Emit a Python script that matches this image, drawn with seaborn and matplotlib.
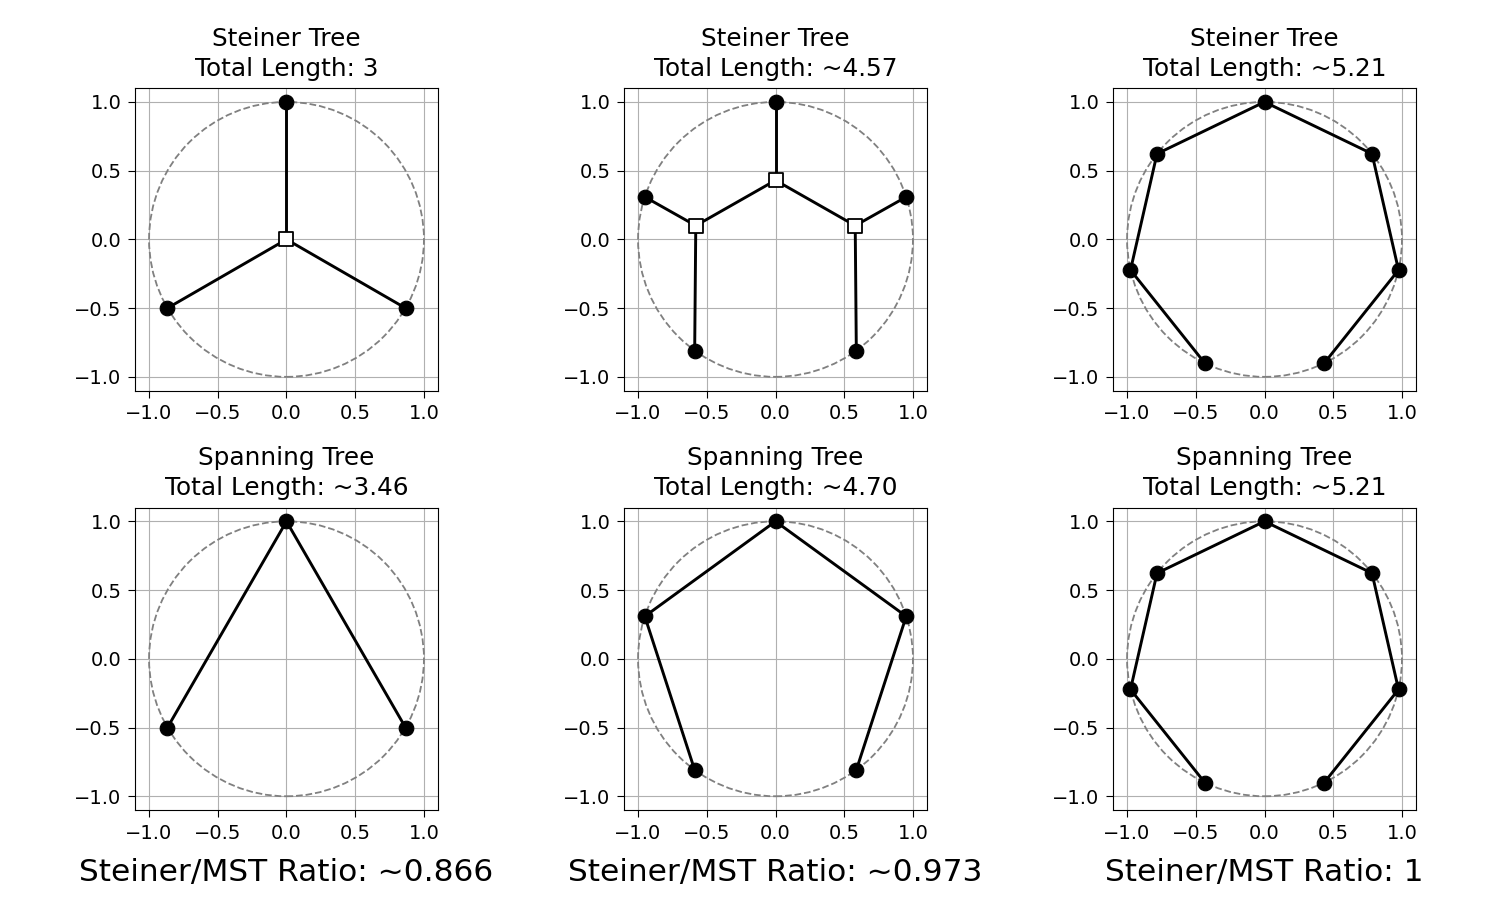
import pandas as pd
import numpy as np
import matplotlib
matplotlib.use("Agg")
import matplotlib.pyplot as plt
import seaborn as sns

# terminal points (regular polygons on the unit circle)
tri_x = [0.0, -0.866, 0.866]
tri_y = [1.0, -0.5, -0.5]
pent_x = [0.0, -0.951, -0.588, 0.588, 0.951]
pent_y = [1.0, 0.309, -0.809, -0.809, 0.309]
hept_x = [0.0, -0.782, -0.975, -0.434, 0.434, 0.975, 0.782]
hept_y = [1.0, 0.623, -0.223, -0.901, -0.901, -0.223, 0.623]

# steiner points
st_tri_x = [0.0]
st_tri_y = [0.0]
st_pent_x = [-0.58, 0.0, 0.58]
st_pent_y = [0.10, 0.43, 0.10]
st_hept_x = []
st_hept_y = []

# edges as index pairs; "s0" etc. refer to steiner points
steiner_tri_edges = [("s0", 0), ("s0", 1), ("s0", 2)]
steiner_pent_edges = [(0, "s1"), ("s1", "s0"), ("s1", "s2"), ("s0", 1), ("s0", 2), ("s2", 4), ("s2", 3)]
steiner_hept_edges = [(3, 2), (2, 1), (1, 0), (0, 6), (6, 5), (5, 4)]
mst_tri_edges = [(1, 0), (0, 2)]
mst_pent_edges = [(2, 1), (1, 0), (0, 4), (4, 3)]
mst_hept_edges = [(3, 2), (2, 1), (1, 0), (0, 6), (6, 5), (5, 4)]

steiner_titles = ["3", "~4.57", "~5.21"]
mst_titles = ["~3.46", "~4.70", "~5.21"]
ratios = ["~0.866", "~0.973", "1"]

terminals = [(tri_x, tri_y), (pent_x, pent_y), (hept_x, hept_y)]
steiners = [(st_tri_x, st_tri_y), (st_pent_x, st_pent_y), (st_hept_x, st_hept_y)]
steiner_edges = [steiner_tri_edges, steiner_pent_edges, steiner_hept_edges]
mst_edges = [mst_tri_edges, mst_pent_edges, mst_hept_edges]


def pt(idx, term, st):
    if isinstance(idx, str):
        k = int(idx[1:])
        return st[0][k], st[1][k]
    return term[0][idx], term[1][idx]


def edge_frame(edges, term, st):
    rows = []
    for i, (a, b) in enumerate(edges):
        for p in (a, b):
            x, y = pt(p, term, st)
            rows.append({"edge": i, "x": x, "y": y})
    return pd.DataFrame(rows)


def draw(ax, edges, term, st, title):
    ax.add_patch(plt.Circle((0, 0), 1, fill=False, ls="--", color="gray", lw=1.3, zorder=1))
    df = edge_frame(edges, term, st)
    sns.lineplot(data=df, x="x", y="y", units="edge", estimator=None, sort=False,
                 color="black", lw=2.1, ax=ax, zorder=2)
    sns.scatterplot(x=term[0], y=term[1], color="black", s=110, edgecolor="black",
                    ax=ax, zorder=3)
    if len(st[0]):
        sns.scatterplot(x=st[0], y=st[1], color="white", marker="s", s=90,
                        edgecolor="black", linewidth=1.3, ax=ax, zorder=4)
    ax.set_xlim(-1.1, 1.1)
    ax.set_ylim(-1.1, 1.1)
    ax.set_aspect("equal")
    ax.grid(True, zorder=0)
    ax.set_axisbelow(True)
    ax.set_xticks([-1.0, -0.5, 0.0, 0.5, 1.0])
    ax.set_yticks([-1.0, -0.5, 0.0, 0.5, 1.0])
    ax.tick_params(labelsize=14, length=5, pad=5)
    ax.set_title(title, fontsize=17.8, linespacing=1.3, pad=9)
    ax.set_xlabel("")
    ax.set_ylabel("")


fig, axes = plt.subplots(2, 3, figsize=(15, 9), dpi=100)
plt.subplots_adjust(left=0.09, right=0.944, top=0.902, bottom=0.1, wspace=0.614, hspace=0.387)

for j in range(3):
    draw(axes[0, j], steiner_edges[j], terminals[j], steiners[j],
         "Steiner Tree\nTotal Length: " + steiner_titles[j])
    draw(axes[1, j], mst_edges[j], terminals[j], ([], []),
         "Spanning Tree\nTotal Length: " + mst_titles[j])
    axes[1, j].set_xlabel("Steiner/MST Ratio: " + ratios[j], fontsize=22.5, labelpad=11)

fig.savefig("out.png", dpi=100)
